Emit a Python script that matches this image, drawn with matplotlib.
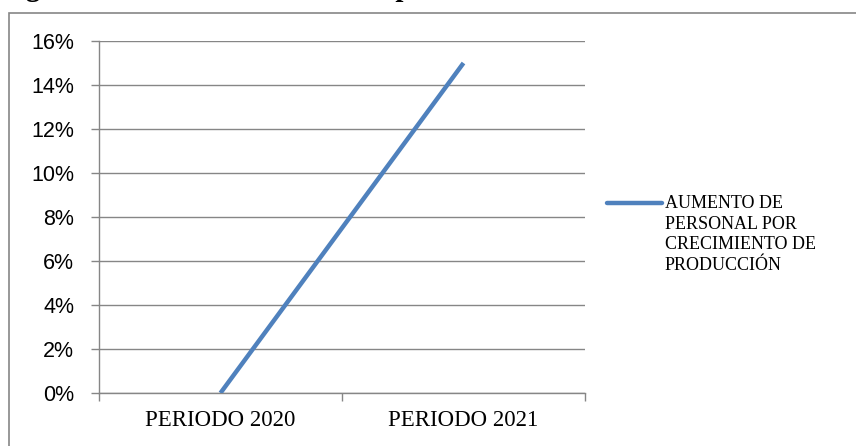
import matplotlib.pyplot as plt
from matplotlib.lines import Line2D
from matplotlib.patches import Rectangle
from matplotlib.ticker import FixedLocator, PercentFormatter

periods = ["PERIODO 2020", "PERIODO 2021"]
increase = [0.0, 15.0]  # percent
series_name = "AUMENTO DE\nPERSONAL POR\nCRECIMIENTO DE\nPRODUCCIÓN"
caption = "Figura 8: Aumento de Personal por Crecimiento de Producción"

BLUE = "#4F81BD"
GRID = "#868686"

fig = plt.figure(figsize=(8.56, 4.46), dpi=100)

# caption sits above the chart box, only its descenders are on the page
fig.text(0.0, 1 + 4.0 / 446, caption, fontfamily="Liberation Serif",
         fontweight="bold", fontsize=21, va="baseline", ha="left")

# chart border
fig.add_artist(Rectangle((9 / 856, -0.1), 1.2, 1.1 - 13 / 446,
                         transform=fig.transFigure, fill=False,
                         edgecolor=GRID, lw=1.2))

ax = fig.add_axes([99 / 856, 53 / 446, 486 / 856, 352 / 446])
x = list(range(len(periods)))
ax.plot(x, increase, color=BLUE, lw=3.2, solid_capstyle="butt", zorder=3)

ax.set_xlim(-0.5, len(periods) - 0.5)
ax.set_ylim(0, 16)
ax.yaxis.set_major_locator(FixedLocator(range(0, 17, 2)))
ax.yaxis.set_major_formatter(PercentFormatter(decimals=0))
ax.grid(axis="y", color=GRID, lw=1)
ax.set_axisbelow(True)

# tick marks between categories, labels centred on them
ax.xaxis.set_major_locator(FixedLocator([-0.5, 0.5, 1.5]))
ax.xaxis.set_major_formatter(plt.NullFormatter())
ax.xaxis.set_minor_locator(FixedLocator(x))
ax.set_xticklabels(periods, minor=True, fontfamily="Liberation Serif", fontsize=16.5)
ax.tick_params(axis="x", which="major", length=6, width=1, color=GRID)
ax.tick_params(axis="x", which="minor", length=0, pad=12)
ax.tick_params(axis="y", length=6, width=1, color=GRID, labelsize=15.5, pad=12)
for lab in ax.get_yticklabels():
    lab.set_fontfamily("Liberation Sans")

for side in ("top", "right"):
    ax.spines[side].set_visible(False)
for side in ("left", "bottom"):
    ax.spines[side].set_color(GRID)
    ax.spines[side].set_linewidth(1)

# legend entry
fig.add_artist(Line2D([607 / 856, 662 / 856], [1 - 203 / 446] * 2,
                      transform=fig.transFigure, color=BLUE, lw=3.2,
                      solid_capstyle="round"))
fig.text(665 / 856, 1 - 195 / 446, series_name, fontfamily="Liberation Serif",
         fontsize=13, va="top", ha="left", linespacing=1.28)

fig.savefig("out.png", dpi=100)
